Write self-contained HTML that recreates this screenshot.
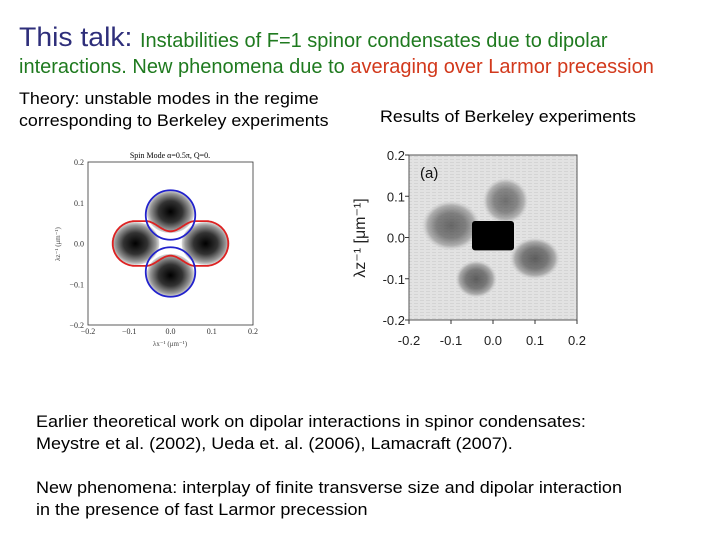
<!DOCTYPE html>
<html><head><meta charset="utf-8">
<style>
body{margin:0;width:720px;height:540px;background:#fff;position:relative;overflow:hidden;font-family:"Liberation Sans",sans-serif}
.t{position:absolute;white-space:nowrap;transform-origin:0 0}
</style></head><body>
<div class="t" style="left:19px;top:22px;font-size:27px;color:#2e2e7a;transform:scaleX(1.05)">This talk:</div>
<div class="t" style="left:140px;top:30px;font-size:20px;color:#1f7a1f;transform:scaleX(1.0)">Instabilities of F=1 spinor condensates due to dipolar</div>
<div class="t" style="left:19px;top:56px;font-size:20px;color:#1f7a1f;transform:scaleX(1.0)">interactions. New phenomena due to <span style="color:#d2391c">averaging over Larmor precession</span></div>
<div class="t" style="left:19px;top:88px;font-size:17px;line-height:22px;color:#000;transform:scaleX(1.05)">Theory: unstable modes in the regime<br>corresponding to Berkeley experiments</div>
<div class="t" style="left:380px;top:107px;font-size:17px;color:#000;transform:scaleX(1.05)">Results of Berkeley experiments</div>

<svg id="left" width="720" height="540" style="position:absolute;left:0;top:0">
<defs>
<radialGradient id="g" cx="50%" cy="50%" r="50%"><stop offset="0" stop-color="#000"/><stop offset="0.5" stop-color="#333"/><stop offset="0.85" stop-color="#999"/><stop offset="1" stop-color="#ddd"/></radialGradient>
<radialGradient id="g2" cx="50%" cy="50%" r="50%"><stop offset="0" stop-color="#333"/><stop offset="0.5" stop-color="#555"/><stop offset="0.8" stop-color="#999"/><stop offset="1" stop-color="#ccc" stop-opacity="0"/></radialGradient>
<pattern id="stripes" width="6" height="3" patternUnits="userSpaceOnUse"><rect width="6" height="3" fill="#e2e2e2"/><rect width="4" height="1" fill="#d4d4d4"/></pattern>
</defs>
</svg>

<div class="t" style="left:36px;top:411px;font-size:17px;line-height:22px;color:#000;transform:scaleX(1.06)">Earlier theoretical work on dipolar interactions in spinor condensates:<br>Meystre et al. (2002), Ueda et. al. (2006), Lamacraft (2007).</div>
<div class="t" style="left:36px;top:477px;font-size:17px;line-height:22px;color:#000;transform:scaleX(1.06)">New phenomena: interplay of finite transverse size and dipolar interaction<br>in the presence of fast Larmor precession</div>

<script>
const ticks=[-0.2,-0.1,0.0,0.1,0.2];
const tickLabels=["\u22120.2","\u22120.1","0.0","0.1","0.2"];
const theoryLobesX=[0,0,-0.085,0.085];
const theoryLobesY=[0.078,-0.078,0,0];
const blueCirclesY=[0.07,-0.07];
const blueRadius=0.06;
const redLobeCenter=0.085, redLobeRadius=0.055, redFlatStart=0.06, redWaist=0.03;
const expTickLabels=["-0.2","-0.1","0.0","0.1","0.2"];
const blobX=[0,-0.1,0.1,-0.04,0.03];
const blobY=[0.005,0.03,-0.05,-0.1,0.09];
const blobW=[0.1,0.14,0.12,0.1,0.11];
const blobH=[0.07,0.12,0.1,0.09,0.11];
const blobDark=[1,0.7,0.75,0.75,0.65];

const NS="http://www.w3.org/2000/svg";
const svg=document.getElementById('left');
function mk(t,a){const e=document.createElementNS(NS,t);for(const k in a)e.setAttribute(k,a[k]);svg.appendChild(e);return e;}
const L={x0:88,x1:253,y0:162,y1:325};
const lx=v=>L.x0+(v+0.2)/0.4*(L.x1-L.x0), ly=v=>L.y1-(v+0.2)/0.4*(L.y1-L.y0);
const lpx=(L.x1-L.x0)/0.4;
let fr=mk('rect',{x:L.x0,y:L.y0,width:L.x1-L.x0,height:L.y1-L.y0,fill:'#fff',stroke:'#333','stroke-width':0.8});

for(let i=0;i<theoryLobesX.length;i++){
  const horiz=Math.abs(theoryLobesX[i])>0;
  const e=mk('ellipse',{cx:lx(theoryLobesX[i]),cy:ly(theoryLobesY[i]),rx:(horiz?0.058:0.058)*lpx,ry:(horiz?0.052:0.052)*lpx,fill:'url(#g)'});
  
  
}
(function(){
  const xm=redLobeCenter+redLobeRadius;
  function h(x){const a=Math.abs(x);
    if(a>=redLobeCenter){const d=a-redLobeCenter;return Math.sqrt(Math.max(0,redLobeRadius*redLobeRadius-d*d));}
    if(a>=redFlatStart) return redLobeRadius;
    const s=Math.sin(a/redFlatStart*Math.PI/2);return redWaist+(redLobeRadius-redWaist)*s*s;}
  let top=[];const N=240;
  for(let k=0;k<=N;k++){const th=Math.PI*k/N;const x=-xm*Math.cos(th);top.push([x,h(x)]);}
  let d='';
  top.forEach((p,k)=>{d+=(k?'L':'M')+lx(p[0]).toFixed(1)+' '+ly(p[1]).toFixed(1);});
  for(let k=top.length-1;k>=0;k--){d+='L'+lx(top[k][0]).toFixed(1)+' '+ly(-top[k][1]).toFixed(1);}
  const p=mk('path',{d:d+'Z',fill:'none',stroke:'#d22',"stroke-width":1.8});
  
})();
blueCirclesY.forEach(y=>{const c=mk('circle',{cx:lx(0),cy:ly(y),r:blueRadius*lpx,fill:'none',stroke:'#22c','stroke-width':1.8});
  });
ticks.forEach((v,i)=>{
  let t=mk('text',{x:L.x0-4,y:ly(v)+3,'font-size':8,'text-anchor':'end',fill:'#333','font-family':'Liberation Serif'});t.textContent=tickLabels[i];
  
  t=mk('text',{x:lx(v),y:L.y1+9,'font-size':8,'text-anchor':'middle',fill:'#333','font-family':'Liberation Serif'});t.textContent=tickLabels[i];
  
});
let tt=mk('text',{x:170,y:158,'font-size':8,'text-anchor':'middle','font-family':'Liberation Serif'});tt.textContent='Spin Mode   \u03b1=0.5\u03c0, Q=0.';

tt=mk('text',{x:170,y:346,'font-size':7,'text-anchor':'middle','font-family':'Liberation Serif',fill:'#444'});tt.textContent='\u03bbx\u207b\u00b9 (\u03bcm\u207b\u00b9)';

tt=mk('text',{x:0,y:0,'font-size':7,'text-anchor':'middle','font-family':'Liberation Serif',fill:'#444',transform:'translate(60,244) rotate(-90)'});tt.textContent='\u03bbz\u207b\u00b9 (\u03bcm\u207b\u00b9)';


const R={x0:409,x1:577,y0:155,y1:320};
const rx=v=>R.x0+(v+0.2)/0.4*(R.x1-R.x0), ry=v=>R.y1-(v+0.2)/0.4*(R.y1-R.y0);
const rpx=(R.x1-R.x0)/0.4;
fr=mk('rect',{x:R.x0,y:R.y0,width:R.x1-R.x0,height:R.y1-R.y0,fill:'url(#stripes)',stroke:'#555','stroke-width':1});

for(let i=blobX.length-1;i>=0;i--){
  const e=mk('rect',{x:rx(blobX[i]-blobW[i]/2),y:ry(blobY[i]+blobH[i]/2),width:blobW[i]*rpx,height:blobH[i]*rpx,fill:i==0?'#000':'url(#g2)',opacity:blobDark[i],rx:i==0?3:10});
  
  
}
ticks.forEach((v,i)=>{
  let t=mk('text',{x:R.x0-4,y:ry(v)+5,'font-size':13,'text-anchor':'end',fill:'#222'});t.textContent=expTickLabels[i];
  
  t=mk('text',{x:rx(v),y:R.y1+25,'font-size':13,'text-anchor':'middle',fill:'#222'});t.textContent=expTickLabels[i];
  
  mk('line',{x1:R.x0-4,x2:R.x0,y1:ry(v),y2:ry(v),stroke:'#333'});
  mk('line',{x1:rx(v),x2:rx(v),y1:R.y1,y2:R.y1+4,stroke:'#333'});
});
tt=mk('text',{x:420,y:178,'font-size':15,fill:'#111'});tt.textContent='(a)';

tt=mk('text',{x:0,y:0,'font-size':16,'text-anchor':'middle',fill:'#222',transform:'translate(365,238) rotate(-90)'});tt.textContent='\u03bbz\u207b\u00b9 [\u03bcm\u207b\u00b9]';

</script>
</body></html>
